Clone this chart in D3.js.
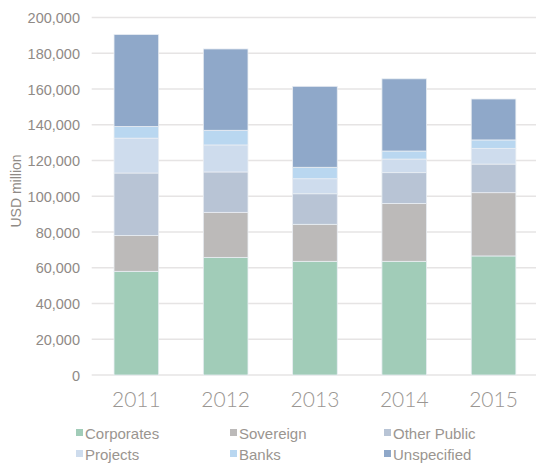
<!DOCTYPE html>
<html>
<head>
<meta charset="utf-8">
<script src="https://cdn.jsdelivr.net/npm/d3@7"></script>
<style>
  html, body { margin: 0; padding: 0; background: #fff; }
  svg { display: block; }
</style>
</head>
<body>
<svg id="chart" width="536" height="467"></svg>
<script>
// Years along the x axis
const years = ["2011", "2012", "2013", "2014", "2015"];

// Stack order, bottom to top
const seriesNames = ["Corporates", "Sovereign", "Other Public", "Projects", "Banks", "Unspecified"];
const seriesColors = ["#a1ccb8", "#bcbab9", "#b8c4d5", "#cedced", "#b9d7f0", "#8fa8c9"];

// USD million per series and year
const corporates  = [58000, 65800, 63600, 63600, 66600];
const sovereign   = [20000, 25200, 20700, 32400, 35400];
const otherPublic = [35000, 22600, 17100, 17200, 16000];
const projects    = [19500, 15100,  8400,  7600,  8800];
const banks       = [ 6500,  8200,  6400,  4500,  4700];
const unspecified = [51500, 45500, 45300, 40400, 22900];

const yTicks = [0, 20000, 40000, 60000, 80000, 100000, 120000, 140000, 160000, 180000, 200000];

const seriesValues = [corporates, sovereign, otherPublic, projects, banks, unspecified];
const rows = years.map((y, i) => {
  const r = { year: y };
  seriesNames.forEach((n, s) => { r[n] = seriesValues[s][i]; });
  return r;
});

const svg = d3.select("#chart");
const plot = { left: 91.7, right: 538.2, top: 17.5, bottom: 375 };

const x = d3.scaleBand().domain(years).range([plot.left, plot.right]).paddingInner(0.5).paddingOuter(0.25);
const y = d3.scaleLinear().domain([0, 200000]).range([plot.bottom, plot.top]);

// Horizontal gridlines
svg.append("g")
  .selectAll("line")
  .data(yTicks)
  .join("line")
  .attr("x1", plot.left)
  .attr("x2", 536)
  .attr("y1", d => y(d))
  .attr("y2", d => y(d))
  .attr("stroke", "#e6e4e4")
  .attr("stroke-width", 1.5);

// Y axis tick labels
const yAxis = d3.axisLeft(y).tickValues(yTicks).tickSize(0).tickPadding(0)
  .tickFormat(d3.format(","));
const gy = svg.append("g").attr("transform", `translate(80,0)`).call(yAxis);
gy.select(".domain").remove();
gy.selectAll("text")
  .attr("font-family", "'Liberation Sans', Arial, sans-serif")
  .attr("font-size", 14.5)
  .attr("fill", "#8f8a86")
  .attr("dy", "0.35em");

// Y axis title
svg.append("text")
  .attr("transform", `translate(21,191) rotate(-90)`)
  .attr("text-anchor", "middle")
  .attr("font-family", "'Liberation Sans', Arial, sans-serif")
  .attr("font-size", 14)
  .attr("fill", "#8f8a86")
  .text("USD million");

// Stacked bars
const stack = d3.stack().keys(seriesNames)(rows);
svg.append("g")
  .selectAll("g")
  .data(stack)
  .join("g")
  .attr("fill", (d, i) => seriesColors[i])
  .selectAll("rect")
  .data(d => d)
  .join("rect")
  .attr("x", d => x(d.data.year))
  .attr("width", x.bandwidth())
  .attr("y", d => y(d[1]))
  .attr("height", d => y(d[0]) - y(d[1]))
  .attr("stroke", "#e9eef3")
  .attr("stroke-width", 0.8);

// X axis labels
const xAxis = d3.axisBottom(x).tickSize(0).tickPadding(0);
const gx = svg.append("g").attr("transform", `translate(0,${plot.bottom})`).call(xAxis);
gx.select(".domain").remove();
gx.selectAll("text")
  .attr("font-family", "Lato, 'Open Sans', sans-serif")
  .attr("font-weight", 300)
  .attr("font-size", 21)
  .attr("fill", "#9a9692")
  .attr("dy", null)
  .attr("y", 31.5);

// Legend
const legendCols = [76, 230, 384];
const legendRows = [438.5, 459.5];
const legend = svg.append("g")
  .selectAll("g")
  .data(seriesNames)
  .join("g")
  .attr("transform", (d, i) => `translate(${legendCols[i % 3]},${legendRows[Math.floor(i / 3)]})`);
legend.append("rect")
  .attr("x", 0)
  .attr("y", -9.5)
  .attr("width", 7)
  .attr("height", 7)
  .attr("fill", (d, i) => seriesColors[i]);
legend.append("text")
  .attr("x", 9)
  .attr("y", 0)
  .attr("font-family", "'Liberation Sans', Arial, sans-serif")
  .attr("font-size", 15)
  .attr("fill", "#9a9590")
  .text(d => d);
</script>
</body>
</html>
